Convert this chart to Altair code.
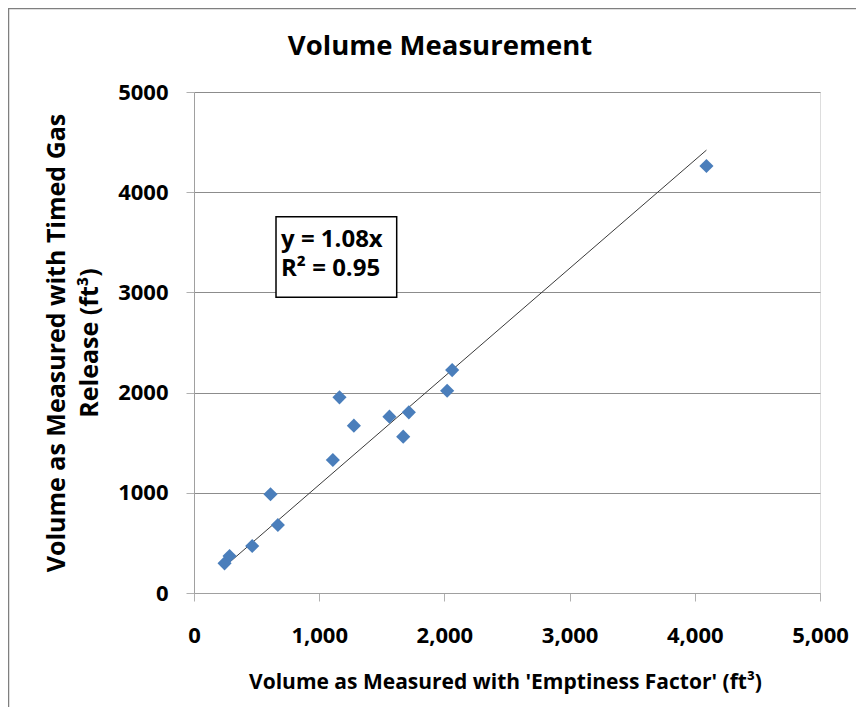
import altair as alt
import pandas as pd

# Data
x_vals = [244, 284, 465, 611, 670, 1109, 1162, 1277, 1561, 1671, 1716, 2022, 2062, 4093]
y_vals = [296, 369, 469, 985, 679, 1327, 1953, 1670, 1760, 1560, 1803, 2019, 2225, 4261]

# Linear trendline (y = 1.08x) end points
trend_x = [244, 4093]
trend_y = [264, 4420]

# Equation box (data coordinates)
box_x = [655, 1619]
box_y = [2951, 3756]
eq_lines = ["y = 1.08x", "R² = 0.95"]
eq_x = [695, 695]
eq_y = [3456, 3167]

x_ticks = [0, 1000, 2000, 3000, 4000, 5000]
y_ticks = [0, 1000, 2000, 3000, 4000, 5000]

FONT = "Open Sans"

pts = pd.DataFrame({"x": x_vals, "y": y_vals})
trend = pd.DataFrame({"x": trend_x, "y": trend_y})
box = pd.DataFrame({"x": [box_x[0]], "x2": [box_x[1]], "y": [box_y[0]], "y2": [box_y[1]]})
eq = pd.DataFrame({"t": eq_lines, "x": eq_x, "y": eq_y})

xscale = alt.Scale(domain=[0, 5000], nice=False, zero=True)
yscale = alt.Scale(domain=[0, 5000], nice=False, zero=True)

xaxis = alt.Axis(
    values=x_ticks, format=",d", grid=False,
    title="Volume as Measured with 'Emptiness Factor' (ft³)",
    titleFont=FONT, titleFontSize=21, titleFontWeight="bold", titleColor="black",
    titleX=311, titleY=95, titleBaseline="alphabetic", titleAnchor="middle", titleAlign="center",
    labelFont=FONT, labelFontSize=22, labelFontWeight="bold", labelColor="black",
    labelBaseline="alphabetic", labelPadding=41, tickSize=8, tickColor="#b0b0b0",
    domainColor="#a0a0a0", labelFlush=False,
)
yaxis = alt.Axis(
    values=y_ticks, format="d", grid=True, gridColor="#8c8c8c", gridWidth=1,
    title=["Volume as Measured with Timed Gas", "Release (ft³)"],
    titleFont=FONT, titleFontSize=25, titleFontWeight="bold", titleColor="black",
    titleX=-130, titleY=250.5, titleBaseline="alphabetic", titleAngle=-90, titleAlign="center",
    titleLineHeight=33,
    labelFont=FONT, labelFontSize=22, labelFontWeight="bold", labelColor="black",
    labelPadding=18, tickSize=8, tickColor="#b0b0b0", domainColor="#a0a0a0", labelFlush=False,
)

base_pts = alt.Chart(pts).mark_point(
    shape="diamond", filled=True, size=200, color="#4a7ebb", opacity=1
).encode(
    x=alt.X("x:Q", scale=xscale, axis=xaxis),
    y=alt.Y("y:Q", scale=yscale, axis=yaxis),
)

trend_line = alt.Chart(trend).mark_line(color="#3a3a3a", strokeWidth=1).encode(
    x=alt.X("x:Q", scale=xscale), y=alt.Y("y:Q", scale=yscale)
)

box_rect = alt.Chart(box).mark_rect(fill="white", stroke="black", strokeWidth=1.5).encode(
    x=alt.X("x:Q", scale=xscale), x2="x2:Q",
    y=alt.Y("y:Q", scale=yscale), y2="y2:Q",
)

eq_text = alt.Chart(eq).mark_text(
    align="left", baseline="alphabetic", font=FONT, fontSize=24, fontWeight="bold", color="black"
).encode(
    x=alt.X("x:Q", scale=xscale), y=alt.Y("y:Q", scale=yscale), text="t:N"
)

frame = alt.Chart(pd.DataFrame({"a": [0]})).mark_rect(
    fill="transparent", stroke="#7f7f7f", strokeWidth=1.5, clip=False
).encode(
    x=alt.value(-185.5), y=alt.value(-83.5), x2=alt.value(700), y2=alt.value(700)
)

chart = alt.layer(frame, trend_line, base_pts, box_rect, eq_text).properties(
    width=626, height=501,
    title=alt.TitleParams(
        "Volume Measurement", font=FONT, fontSize=27.5, fontWeight="bold", color="black",
        anchor="middle", dx=-67, offset=-75, baseline="alphabetic",
    ),
    autosize=alt.AutoSizeParams(type="none"),
    padding={"left": 186, "top": 84, "right": 36, "bottom": 114},
).configure_view(stroke=None).configure(background="white")

chart.save("out.html", embed_options={"renderer": "svg", "actions": False})
